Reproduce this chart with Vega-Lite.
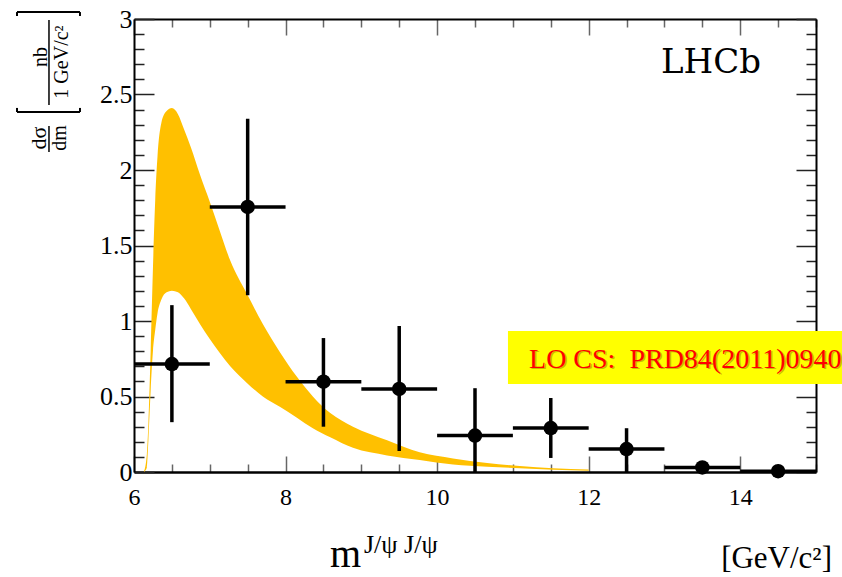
{
  "$schema": "https://vega.github.io/schema/vega-lite/v6.json",
  "width": 682,
  "height": 453,
  "autosize": {"type": "none"},
  "padding": {"left": 134, "top": 19, "right": 26, "bottom": 105},
  "background": "white",
  "config": {
    "view": {"stroke": null},
    "font": "Liberation Serif",
    "text": {"font": "Liberation Serif", "color": "black"},
    "axis": {
      "grid": false,
      "title": null,
      "domainColor": "black",
      "domainWidth": 2,
      "tickWidth": 1.5,
      "labelFont": "Liberation Serif",
      "labelColor": "black",
      "labelFlush": false,
      "labelOverlap": false
    }
  },
  "datasets": {
    "points": [
      {"m": 6.5, "m_lo": 6, "m_hi": 7, "val": 0.715, "lo": 0.33, "hi": 1.105},
      {"m": 7.5, "m_lo": 7, "m_hi": 8, "val": 1.755, "lo": 1.17, "hi": 2.34},
      {"m": 8.5, "m_lo": 8, "m_hi": 9, "val": 0.598, "lo": 0.3, "hi": 0.887},
      {"m": 9.5, "m_lo": 9, "m_hi": 10, "val": 0.55, "lo": 0.139, "hi": 0.967},
      {"m": 10.5, "m_lo": 10, "m_hi": 11, "val": 0.241, "lo": 0, "hi": 0.555},
      {"m": 11.5, "m_lo": 11, "m_hi": 12, "val": 0.291, "lo": 0.093, "hi": 0.49},
      {"m": 12.5, "m_lo": 12, "m_hi": 13, "val": 0.152, "lo": 0, "hi": 0.29},
      {"m": 13.5, "m_lo": 13, "m_hi": 14, "val": 0.03, "lo": 0.01, "hi": 0.05},
      {"m": 14.5, "m_lo": 14, "m_hi": 15, "val": 0.005, "lo": 0, "hi": 0.02}
    ],
    "lo_cs": [
      {"m": 6.13, "lo": 0, "hi": 0},
      {"m": 6.17, "lo": 0.03, "hi": 0.12},
      {"m": 6.19, "lo": 0.21, "hi": 0.32},
      {"m": 6.22, "lo": 0.54, "hi": 0.8},
      {"m": 6.25, "lo": 0.8, "hi": 1.35},
      {"m": 6.28, "lo": 0.94, "hi": 1.8},
      {"m": 6.31, "lo": 1.05, "hi": 2.09},
      {"m": 6.36, "lo": 1.14, "hi": 2.31},
      {"m": 6.43, "lo": 1.19, "hi": 2.39},
      {"m": 6.5, "lo": 1.2, "hi": 2.41},
      {"m": 6.58, "lo": 1.19, "hi": 2.37},
      {"m": 6.66, "lo": 1.15, "hi": 2.27},
      {"m": 6.75, "lo": 1.08, "hi": 2.15},
      {"m": 6.87, "lo": 0.98, "hi": 1.97},
      {"m": 7.0, "lo": 0.88, "hi": 1.79},
      {"m": 7.13, "lo": 0.79, "hi": 1.6},
      {"m": 7.27, "lo": 0.7, "hi": 1.4},
      {"m": 7.49, "lo": 0.59, "hi": 1.18},
      {"m": 7.7, "lo": 0.5, "hi": 0.98},
      {"m": 7.93, "lo": 0.43, "hi": 0.79},
      {"m": 8.15, "lo": 0.36, "hi": 0.63},
      {"m": 8.36, "lo": 0.29, "hi": 0.5},
      {"m": 8.59, "lo": 0.23, "hi": 0.39},
      {"m": 8.89, "lo": 0.16, "hi": 0.3},
      {"m": 9.34, "lo": 0.11, "hi": 0.21},
      {"m": 9.77, "lo": 0.08, "hi": 0.13},
      {"m": 10.21, "lo": 0.05, "hi": 0.09},
      {"m": 10.66, "lo": 0.035, "hi": 0.06},
      {"m": 11.09, "lo": 0.025, "hi": 0.04},
      {"m": 11.53, "lo": 0.015, "hi": 0.025},
      {"m": 12.0, "lo": 0.008, "hi": 0.017}
    ]
  },
  "layer": [
    {
      "data": {"name": "lo_cs"},
      "mark": {"type": "area", "color": "#FFC000", "interpolate": "monotone"},
      "encoding": {
        "x": {
          "field": "m", "type": "quantitative",
          "scale": {"domain": [6, 15], "nice": false, "zero": false},
          "axis": {
            "orient": "bottom",
            "values": [6, 6.5, 7, 7.5, 8, 8.5, 9, 9.5, 10, 10.5, 11, 11.5, 12, 12.5, 13, 13.5, 14, 14.5, 15],
            "format": "~g",
            "tickColor": "#666",
            "tickSize": {"condition": {"test": "datum.value % 2 === 0", "value": -16}, "value": -8},
            "labelExpr": "datum.value % 2 === 0 && datum.value < 15 ? datum.label : ''",
            "labelFontSize": 24,
            "labelPadding": {"condition": {"test": "datum.value % 2 === 0", "value": 29}, "value": 21},
            "domainWidth": 2.5
          }
        },
        "y": {
          "field": "hi", "type": "quantitative",
          "scale": {"domain": [0, 3], "nice": false, "zero": false},
          "axis": {
            "orient": "left",
            "values": [0, 0.1, 0.2, 0.3, 0.4, 0.5, 0.6, 0.7, 0.8, 0.9, 1, 1.1, 1.2, 1.3, 1.4, 1.5, 1.6, 1.7, 1.8, 1.9, 2, 2.1, 2.2, 2.3, 2.4, 2.5, 2.6, 2.7, 2.8, 2.9, 3],
            "format": "~g",
            "tickColor": "#222",
            "tickSize": {"condition": {"test": "abs(datum.value * 2 - round(datum.value * 2)) < 0.001", "value": -20}, "value": -10},
            "labelExpr": "abs(datum.value * 2 - round(datum.value * 2)) < 0.001 ? datum.label : ''",
            "labelFontSize": 26,
            "labelPadding": {"condition": {"test": "abs(datum.value * 2 - round(datum.value * 2)) < 0.001", "value": 22}, "value": 12}
          }
        },
        "y2": {"field": "lo"}
      }
    },
    {
      "data": {"name": "points"},
      "mark": {"type": "rule", "color": "black", "strokeWidth": 3.5},
      "encoding": {
        "x": {
          "field": "m_lo", "type": "quantitative",
          "axis": {
            "orient": "top",
            "labels": false,
            "values": [6, 6.5, 7, 7.5, 8, 8.5, 9, 9.5, 10, 10.5, 11, 11.5, 12, 12.5, 13, 13.5, 14, 14.5, 15],
            "tickColor": "#666",
            "tickSize": {"condition": {"test": "datum.value % 2 === 0", "value": -16}, "value": -8}
          }
        },
        "x2": {"field": "m_hi"},
        "y": {
          "field": "val", "type": "quantitative",
          "axis": {
            "orient": "right",
            "labels": false,
            "values": [0, 0.1, 0.2, 0.3, 0.4, 0.5, 0.6, 0.7, 0.8, 0.9, 1, 1.1, 1.2, 1.3, 1.4, 1.5, 1.6, 1.7, 1.8, 1.9, 2, 2.1, 2.2, 2.3, 2.4, 2.5, 2.6, 2.7, 2.8, 2.9, 3],
            "tickColor": "#222",
            "tickSize": {"condition": {"test": "abs(datum.value * 2 - round(datum.value * 2)) < 0.001", "value": -20}, "value": -10}
          }
        }
      }
    },
    {
      "data": {"name": "points"},
      "mark": {"type": "rule", "color": "black", "strokeWidth": 3.5},
      "encoding": {
        "x": {"field": "m", "type": "quantitative", "axis": null},
        "y": {"field": "lo", "type": "quantitative", "axis": null},
        "y2": {"field": "hi"}
      }
    },
    {
      "data": {"name": "points"},
      "mark": {"type": "circle", "color": "black", "opacity": 1, "size": 210},
      "encoding": {
        "x": {"field": "m", "type": "quantitative", "axis": null},
        "y": {"field": "val", "type": "quantitative", "axis": null}
      }
    },
    {
      "data": {"values": [{}]},
      "mark": {"type": "rect", "color": "#FFFF00"},
      "encoding": {
        "x": {"datum": 10.935, "type": "quantitative", "axis": null},
        "x2": {"datum": 15.343},
        "y": {"datum": 0.934, "type": "quantitative", "axis": null},
        "y2": {"datum": 0.583}
      }
    },
    {
      "data": {"values": [{}]},
      "mark": {"type": "text", "text": "LO CS:\u00a0 PRD84(2011)0940", "font": "Liberation Serif", "fontSize": 28, "align": "left", "baseline": "alphabetic", "color": "#8a6a00", "opacity": 0.45, "dx": 1.5, "dy": 1.5},
      "encoding": {
        "x": {"datum": 11.213, "type": "quantitative", "axis": null},
        "y": {"datum": 0.689, "type": "quantitative", "axis": null}
      }
    },
    {
      "data": {"values": [{}]},
      "mark": {"type": "text", "text": "LO CS:\u00a0 PRD84(2011)0940", "font": "Liberation Serif", "fontSize": 28, "align": "left", "baseline": "alphabetic", "color": "#FF0000"},
      "encoding": {
        "x": {"datum": 11.213, "type": "quantitative", "axis": null},
        "y": {"datum": 0.689, "type": "quantitative", "axis": null}
      }
    },
    {
      "data": {"values": [{}]},
      "mark": {"type": "text", "text": "LHCb", "font": "DejaVu Serif", "fontSize": 34, "align": "center", "baseline": "alphabetic"},
      "encoding": {
        "x": {"datum": 13.614, "type": "quantitative", "axis": null},
        "y": {"datum": 2.642, "type": "quantitative", "axis": null}
      }
    },
    {
      "data": {"values": [{}]},
      "mark": {"type": "text", "text": "m", "font": "Liberation Serif", "fontSize": 40, "align": "left", "baseline": "alphabetic"},
      "encoding": {
        "x": {"datum": 8.587, "type": "quantitative", "axis": null},
        "y": {"datum": -0.629, "type": "quantitative", "axis": null}
      }
    },
    {
      "data": {"values": [{}]},
      "mark": {"type": "text", "text": "J/ψ J/ψ", "font": "Liberation Serif", "fontSize": 26, "align": "left", "baseline": "alphabetic"},
      "encoding": {
        "x": {"datum": 9.035, "type": "quantitative", "axis": null},
        "y": {"datum": -0.536, "type": "quantitative", "axis": null}
      }
    },
    {
      "data": {"values": [{}]},
      "mark": {"type": "text", "text": "[GeV/c²]", "font": "Liberation Serif", "fontSize": 31, "align": "right", "baseline": "alphabetic"},
      "encoding": {
        "x": {"datum": 15.211, "type": "quantitative", "axis": null},
        "y": {"datum": -0.636, "type": "quantitative", "axis": null}
      }
    },
    {
      "data": {"values": [{}]},
      "mark": {"type": "text", "text": "dσ", "font": "Liberation Serif", "fontSize": 22, "angle": 270, "align": "center", "baseline": "middle"},
      "encoding": {
        "x": {"datum": 4.746, "type": "quantitative", "axis": null},
        "y": {"datum": 2.212, "type": "quantitative", "axis": null}
      }
    },
    {
      "data": {"values": [{}]},
      "mark": {"type": "rule", "color": "black", "strokeWidth": 1.5},
      "encoding": {
        "x": {"datum": 4.878, "type": "quantitative", "axis": null},
        "y": {"datum": 2.291, "type": "quantitative", "axis": null},
        "y2": {"datum": 2.119}
      }
    },
    {
      "data": {"values": [{}]},
      "mark": {"type": "text", "text": "dm", "font": "Liberation Serif", "fontSize": 20, "angle": 270, "align": "center", "baseline": "middle"},
      "encoding": {
        "x": {"datum": 5.023, "type": "quantitative", "axis": null},
        "y": {"datum": 2.212, "type": "quantitative", "axis": null}
      }
    },
    {
      "data": {"values": [{}]},
      "mark": {"type": "text", "text": "nb", "font": "Liberation Serif", "fontSize": 20, "angle": 270, "align": "center", "baseline": "middle"},
      "encoding": {
        "x": {"datum": 4.773, "type": "quantitative", "axis": null},
        "y": {"datum": 2.748, "type": "quantitative", "axis": null}
      }
    },
    {
      "data": {"values": [{}]},
      "mark": {"type": "rule", "color": "black", "strokeWidth": 1.5},
      "encoding": {
        "x": {"datum": 4.878, "type": "quantitative", "axis": null},
        "y": {"datum": 2.993, "type": "quantitative", "axis": null},
        "y2": {"datum": 2.43}
      }
    },
    {
      "data": {"values": [{}]},
      "mark": {"type": "text", "text": "1 GeV/c²", "font": "Liberation Serif", "fontSize": 20, "angle": 270, "align": "center", "baseline": "middle"},
      "encoding": {
        "x": {"datum": 5.05, "type": "quantitative", "axis": null},
        "y": {"datum": 2.715, "type": "quantitative", "axis": null}
      }
    },
    {
      "data": {"values": [{}]},
      "mark": {"type": "rule", "color": "black", "strokeWidth": 2},
      "encoding": {
        "x": {"datum": 4.456, "type": "quantitative", "axis": null},
        "x2": {"datum": 5.287},
        "y": {"datum": 3.046, "type": "quantitative", "axis": null}
      }
    },
    {
      "data": {"values": [{}]},
      "mark": {"type": "rule", "color": "black", "strokeWidth": 2},
      "encoding": {
        "x": {"datum": 4.456, "type": "quantitative", "axis": null},
        "y": {"datum": 3.046, "type": "quantitative", "axis": null},
        "y2": {"datum": 3.02}
      }
    },
    {
      "data": {"values": [{}]},
      "mark": {"type": "rule", "color": "black", "strokeWidth": 2},
      "encoding": {
        "x": {"datum": 5.287, "type": "quantitative", "axis": null},
        "y": {"datum": 3.046, "type": "quantitative", "axis": null},
        "y2": {"datum": 3.02}
      }
    },
    {
      "data": {"values": [{}]},
      "mark": {"type": "rule", "color": "black", "strokeWidth": 2},
      "encoding": {
        "x": {"datum": 4.456, "type": "quantitative", "axis": null},
        "x2": {"datum": 5.287},
        "y": {"datum": 2.384, "type": "quantitative", "axis": null}
      }
    },
    {
      "data": {"values": [{}]},
      "mark": {"type": "rule", "color": "black", "strokeWidth": 2},
      "encoding": {
        "x": {"datum": 4.456, "type": "quantitative", "axis": null},
        "y": {"datum": 2.384, "type": "quantitative", "axis": null},
        "y2": {"datum": 2.411}
      }
    },
    {
      "data": {"values": [{}]},
      "mark": {"type": "rule", "color": "black", "strokeWidth": 2},
      "encoding": {
        "x": {"datum": 5.287, "type": "quantitative", "axis": null},
        "y": {"datum": 2.384, "type": "quantitative", "axis": null},
        "y2": {"datum": 2.411}
      }
    }
  ],
  "resolve": {"axis": {"x": "independent", "y": "independent"}}
}
